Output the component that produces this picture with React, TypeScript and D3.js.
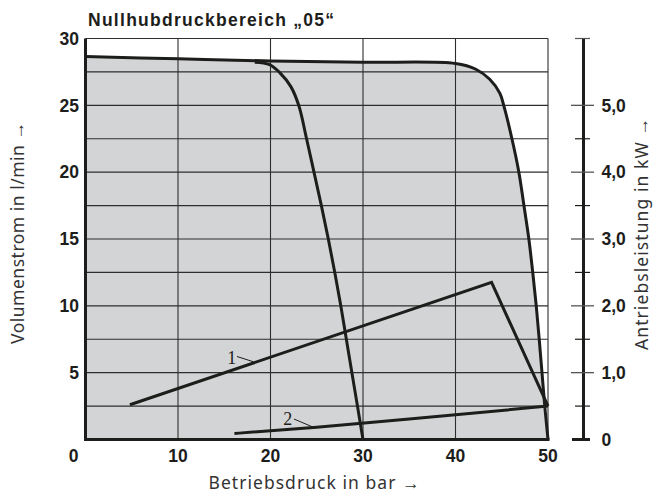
import React from 'react';
import * as d3 from 'd3';

// Envelope (Nullhubdruck 05): pressure in bar, flow in l/min
const envPressure = [0, 10, 20, 30, 40, 42.2, 43.7, 44.8, 45.25, 46.1, 46.85, 47.4, 47.93, 48.35, 48.73, 49.05, 49.35, 49.65, 50];
const envFlow = [28.65, 28.48, 28.32, 28.22, 28.13, 27.7, 26.95, 25.9, 24.9, 22.5, 20, 17.5, 15, 12.5, 10, 7.5, 5, 2.5, 0];

// Inner curve (lower setting)
const innerPressure = [18.3, 19.9, 21.0, 22.2, 23.05, 23.9, 24.7, 25.5, 26.25, 26.95, 27.6, 28.2, 28.8, 29.4, 30];
const innerFlow = [28.23, 28.05, 27.45, 26.4, 25, 22.5, 20, 17.5, 15, 12.5, 10, 7.5, 5, 2.5, 0];

// Drive power curves in kW
const power1Pressure = [4.8, 43.9, 50];
const power1Kw = [0.52, 2.35, 0.5];
const power2Pressure = [16.1, 25, 35, 50];
const power2Kw = [0.09, 0.185, 0.305, 0.5];

const xTicks = [0, 10, 20, 30, 40, 50];
const yTicks = [5, 10, 15, 20, 25, 30];
const kwMajor = [0, 1, 2, 3, 4, 5];
const kwMinor = [0.5, 1.5, 2.5, 3.5, 4.5, 6];
const kwLabels = ['0', '1,0', '2,0', '3,0', '4,0', '5,0'];

const W = 653;
const H = 495;
const boldFont = '"Liberation Sans", Arial, sans-serif';
const textFont = '"Noto Sans", "Open Sans", sans-serif';

const x = d3.scaleLinear().domain([0, 50]).range([85.5, 548]);
const y = d3.scaleLinear().domain([0, 30]).range([439.5, 38.5]);
const yKw = d3.scaleLinear().domain([0, 6]).range([439.5, 38.5]);

const zip = (a: number[], b: number[]) => a.map((v, i) => [v, b[i]] as [number, number]);

const App = () => {
  const curve = d3.line<[number, number]>()
    .x(d => x(d[0]))
    .y(d => y(d[1]))
    .curve(d3.curveCatmullRom.alpha(0.5));
  const kwLine = d3.line<[number, number]>()
    .x(d => x(d[0]))
    .y(d => yKw(d[1]));
  const kwCurve = d3.line<[number, number]>()
    .x(d => x(d[0]))
    .y(d => yKw(d[1]))
    .curve(d3.curveMonotoneX);

  const env = zip(envPressure, envFlow);
  const envPath = curve(env) || '';
  const gridY = d3.range(2.5, 30.01, 2.5);
  const ink = '#1d1d1b';
  const labelInk = '#333';

  return (
    <svg width={W} height={H} style={{ position: 'absolute', left: 0, top: 0, background: '#fff' }}>
      {/* shaded operating range */}
      <path d={envPath + `L${x(0)},${y(0)}Z`} fill="#d3d4d6" stroke="none" />

      {/* grid */}
      {gridY.map(v => (
        <line key={'h' + v} x1={x(0)} x2={x(50)} y1={y(v)} y2={y(v)} stroke="#2e2e2e" strokeWidth={1.1} />
      ))}
      {[10, 20, 30, 40, 50].map(v => (
        <line key={'v' + v} x1={x(v)} x2={x(v)} y1={y(0)} y2={y(30)} stroke="#2e2e2e" strokeWidth={1.1} />
      ))}

      {/* curves */}
      <path d={envPath} fill="none" stroke={ink} strokeWidth={3} />
      <path d={curve(zip(innerPressure, innerFlow)) || ''} fill="none" stroke={ink} strokeWidth={3} />
      <path d={kwLine(zip(power1Pressure, power1Kw)) || ''} fill="none" stroke={ink} strokeWidth={3} strokeLinejoin="miter" />
      <path d={kwCurve(zip(power2Pressure, power2Kw)) || ''} fill="none" stroke={ink} strokeWidth={3} />

      {/* axes */}
      <line x1={x(0)} x2={x(0)} y1={y(0) + 1.5} y2={y(30)} stroke={ink} strokeWidth={3} />
      <line x1={x(0)} x2={x(50) + 1.5} y1={y(0)} y2={y(0)} stroke={ink} strokeWidth={3} />

      {/* right kW axis */}
      <line x1={583.5} x2={583.5} y1={yKw(0) + 1.5} y2={yKw(6)} stroke={ink} strokeWidth={3} />
      {kwMajor.map(v => (
        <line key={'km' + v} x1={v === 0 ? 572 : 571} x2={v === 0 ? 590 : 594} y1={yKw(v)} y2={yKw(v)}
          stroke={v === 0 ? ink : '#555'} strokeWidth={v === 0 ? 3 : 1.3} />
      ))}
      {kwMinor.map(v => (
        <line key={'kn' + v} x1={575} x2={590} y1={yKw(v)} y2={yKw(v)} stroke={v === 6 ? '#555' : ink} strokeWidth={1.2} />
      ))}
      {kwMajor.map((v, i) => (
        <text key={'kl' + v} x={601.5} y={yKw(v)} dy="0.36em" fontFamily={boldFont} fontWeight="bold"
          fontSize={17.5} fill={ink}>{kwLabels[i]}</text>
      ))}

      {/* tick labels */}
      {yTicks.map(v => (
        <text key={'yl' + v} x={79} y={y(v)} dy="0.36em" textAnchor="end" fontFamily={boldFont} fontWeight="bold"
          fontSize={17.5} fill={ink}>{v}</text>
      ))}
      {xTicks.map(v => (
        <text key={'xl' + v} x={v === 0 ? 73.5 : x(v)} y={455.5} dy="0.36em" textAnchor="middle" fontFamily={boldFont}
          fontWeight="bold" fontSize={17.5} fill={ink}>{v}</text>
      ))}

      {/* curve markers */}
      <text x={231.7} y={357.5} dy="0.35em" textAnchor="middle" fontFamily='"Liberation Serif", serif' fontSize={18} fill={ink}>1</text>
      <line x1={237} y1={356.5} x2={253.5} y2={361.8} stroke={ink} strokeWidth={1} />
      <text x={287.7} y={418.3} dy="0.35em" textAnchor="middle" fontFamily='"Liberation Serif", serif' fontSize={18} fill={ink}>2</text>
      <line x1={294} y1={419} x2={313.5} y2={427.3} stroke={ink} strokeWidth={1} />

      {/* titles */}
      <text x={88} y={26} fontFamily={boldFont} fontWeight="bold" fontSize={17.5} textLength={246} lengthAdjust="spacing"
        fill={ink}>Nullhubdruckbereich „05“</text>
      <text x={314} y={489} textAnchor="middle" fontFamily={textFont} fontSize={17.5} textLength={211} lengthAdjust="spacing"
        fill={labelInk}>Betriebsdruck in bar →</text>
      <text transform="translate(18,233) rotate(-90)" dy="0.35em" textAnchor="middle" fontFamily={textFont} fontSize={17.5}
        textLength={222} lengthAdjust="spacing" fill={labelInk}>Volumenstrom in l/min →</text>
      <text transform="translate(642,234) rotate(-90)" dy="0.35em" textAnchor="middle" fontFamily={textFont} fontSize={17.5}
        textLength={232} lengthAdjust="spacing" fill={labelInk}>Antriebsleistung in kW →</text>
    </svg>
  );
};

export default App;
